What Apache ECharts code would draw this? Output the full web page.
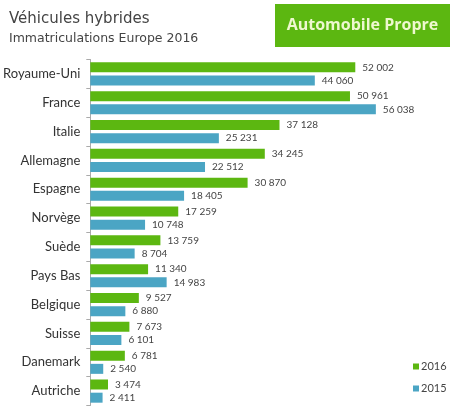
<!DOCTYPE html>
<html><head><meta charset="utf-8">
<script src="https://cdn.jsdelivr.net/npm/echarts@6/dist/echarts.min.js"></script>
<style>html,body{margin:0;padding:0;background:#fff}#c{width:457px;height:413px}</style>
</head><body><div id="c"></div>
<script>
const categories = ['Royaume-Uni','France','Italie','Allemagne','Espagne','Norvège','Suède','Pays Bas','Belgique','Suisse','Danemark','Autriche'];
const values2016 = [52002,50961,37128,34245,30870,17259,13759,11340,9527,7673,6781,3474];
const values2015 = [44060,56038,25231,22512,18405,10748,8704,14983,6880,6101,2540,2411];
const seriesNames = ['2016','2015'];

const fmt = v => String(v).replace(/\B(?=(\d{3})+(?!\d))/g, ' ');
const FONT = 'Lato, "DejaVu Sans", sans-serif';
const chart = echarts.init(document.getElementById('c'), null, {renderer:'canvas'});
chart.setOption({
  animation:false,
  backgroundColor:'#fff',
  graphic:[
    {type:'text', left:9, top:12, style:{text:'Véhicules hybrides', font:'15px "DejaVu Sans", sans-serif', fill:'#444'}},
    {type:'text', left:9, top:32, style:{text:'Immatriculations Europe 2016', font:'12.5px "DejaVu Sans", sans-serif', fill:'#444'}},
    {type:'rect', shape:{x:275,y:4,width:175,height:43}, style:{fill:'#5cb711'}},
    {type:'text', x:362.5, y:25.5, style:{text:'Automobile Propre', font:'bold 16px "Open Sans", '+FONT, fill:'#eef8cf', align:'center', verticalAlign:'middle'}}
  ],
  legend:{
    orient:'vertical', left:408, top:356, itemWidth:6, itemHeight:6, itemGap:11,
    icon:'rect', textStyle:{fontSize:11, color:'#444', fontFamily:FONT, padding:[0,0,0,-3]},
    data:seriesNames
  },
  grid:{left:89, right:10, top:59.5, height:346, containLabel:false},
  xAxis:{type:'value', min:0, max:70000, show:false},
  yAxis:{type:'category', data:categories, inverse:true,
    axisLine:{show:true, lineStyle:{color:'#aaa'}},
    axisTick:{show:true, length:4, lineStyle:{color:'#aaa'}},
    axisLabel:{fontSize:13, color:'#333', fontFamily:FONT, margin:10}
  },
  series:[
    {name:seriesNames[0], type:'bar', data:values2016, barWidth:10, barGap:'32%', itemStyle:{color:'#5cb711'},
      label:{show:true, position:'right', distance:7, fontSize:10, color:'#444', fontFamily:FONT, formatter:p=>fmt(p.value)}},
    {name:seriesNames[1], type:'bar', data:values2015, barWidth:10, barGap:'32%', itemStyle:{color:'#4ba5c4'},
      label:{show:true, position:'right', distance:7, fontSize:10, color:'#444', fontFamily:FONT, formatter:p=>fmt(p.value)}}
  ]
});
</script></body></html>
